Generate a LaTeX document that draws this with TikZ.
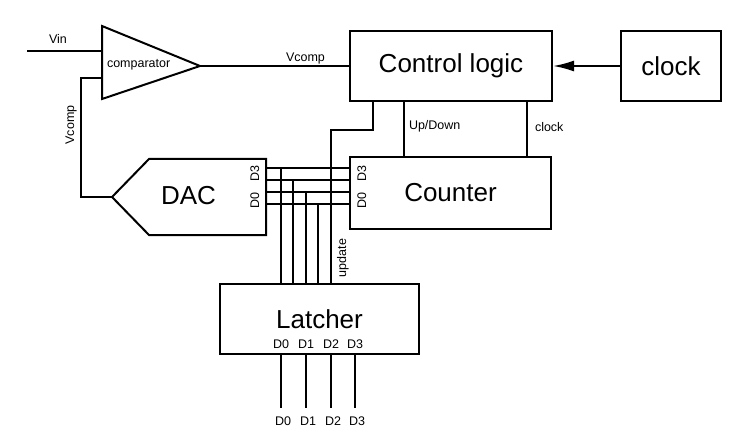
\documentclass[tikz,border=0pt]{standalone}
\usepackage{fontspec}
\setmainfont{Liberation Sans}
\usetikzlibrary{arrows.meta, positioning, calc}

\begin{document}
\begin{tikzpicture}[x=1pt, y=-1pt, line width=2pt,
      block/.style={draw, inner sep=0pt, font=\fontsize{26}{30}\selectfont},
      pin/.style={inner sep=0pt, font=\fontsize{12.5}{15}\selectfont},
      >=Latex
    ]
      \useasboundingbox (0,0) rectangle (750,433);
      % main blocks
      \node[block, minimum width=202pt, minimum height=70pt] (control)
        at (451,66) {Control logic};
      \node[block, minimum width=100pt, minimum height=70pt] (clock)
        at (671,66) {clock};
      \node[block, minimum width=201pt, minimum height=72pt] (counter)
        at (450.5,193) {Counter};
      \node[block, minimum width=199pt, minimum height=70pt] (latcher)
        at (319.5,319) {Latcher};
      % comparator and DAC outlines
      \draw (102,26) coordinate (cmptop) -- (200,66) coordinate (cmpout)
        -- (102,99) coordinate (cmpbot) -- cycle;
      \coordinate (cmpin) at (102,51);
      \coordinate (cmpfb) at (102,78);
      \node[pin, anchor=base west] (cmplabel) at (106,68) {comparator};
      \draw (266,159) -- (149,159) -- (112,197) coordinate (dacin)
        -- (149,235) -- (266,235) -- cycle;
      \node[block, draw=none] (dac) at (188.5,196) {DAC};
      % inputs and comparator wiring
      \coordinate (vin) at (27,51);
      \draw (vin) -- (cmpin);
      \node[pin, anchor=base west] (vinlabel) at (48,44) {Vin};
      \draw (cmpout) -- (cmpout -| control.west);
      \node[pin, anchor=base west] (vcomplabel) at (285,62) {Vcomp};
      \draw (cmpfb) -- (81,78) -- (81,197) -- (dacin);
      \node[pin, anchor=base, rotate=90] (fblabel) at (74,125) {Vcomp};
      % clock and control lines
      \draw[-{Latex[length=21pt,width=11pt]}] (clock.west) -- (control.east);
      \draw ([xshift=55pt]control.south west)
        -- ([xshift=55pt]counter.north west);
      \node[pin, anchor=base west] (updown) at (408,130) {Up/Down};
      \draw ([xshift=178pt]control.south west)
        -- ([xshift=178pt]counter.north west);
      \node[pin, anchor=base west] (clocklabel) at (534,132) {clock};
      \coordinate (updbend) at (331,130);
      \draw ([xshift=24pt]control.south west) |- (updbend)
        -- (updbend |- latcher.north);
      \node[pin, anchor=base, rotate=90] (updlabel) at (346,258) {update};
      % data bus between DAC and counter
      \foreach \y/\x/\n in {168/281/3, 180/293/2, 192/306/1, 204/318/0} {
        \coordinate (bus\n) at (266,\y);
        \coordinate (tap\n) at (\x,\y);
        \draw (bus\n) -- (bus\n -| counter.west);
        \draw (tap\n) -- (tap\n |- latcher.north);
      }
      \node[pin, anchor=base, rotate=90] (dacD3) at (259,174) {D3};
      \node[pin, anchor=base, rotate=90] (dacD0) at (259,201) {D0};
      \node[pin, anchor=base, rotate=90] (cntD3) at (366,174) {D3};
      \node[pin, anchor=base, rotate=90] (cntD0) at (366,201) {D0};
      % latcher outputs
      \foreach \x/\n in {281/0, 306/1, 331/2, 355/3} {
        \coordinate (out\n) at (\x,408);
        \draw (out\n |- latcher.south) -- (out\n);
        \node[pin, anchor=base] (lat\n) at (\x,348) {D\n};
        \node[pin, anchor=base] (outlabel\n) at ([xshift=2pt]\x,425) {D\n};
      }
    \end{tikzpicture}
\end{document}
